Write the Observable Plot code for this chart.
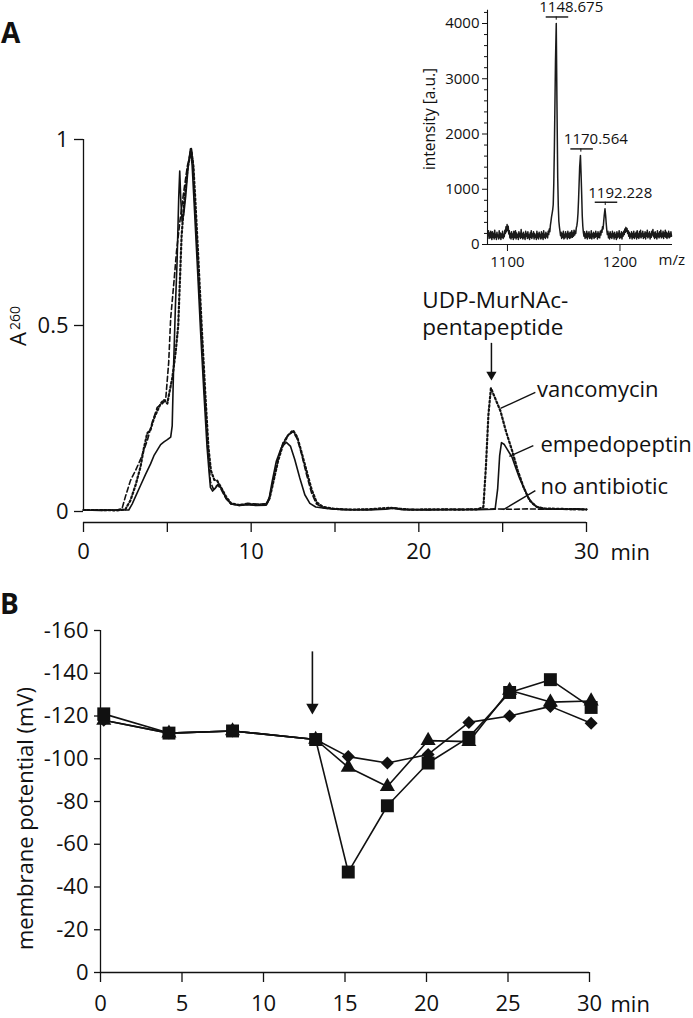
<!DOCTYPE html>
<html><head><meta charset="utf-8">
<script src="https://cdn.jsdelivr.net/npm/d3@7"></script>
<script src="https://cdn.jsdelivr.net/npm/@observablehq/plot@0.6"></script>
<style>
body{margin:0;background:#fff;}
#fig{position:relative;width:693px;height:1018px;font-family:"Open Sans",sans-serif;color:#111;overflow:hidden;background:#fff}
.panel{position:absolute;font-weight:bold;font-size:28px;line-height:1;font-family:"Open Sans",sans-serif;color:#111}
</style></head><body>
<div id="fig">
  <div class="panel" style="left:1px;top:18px">A</div>
  <div class="panel" style="left:0px;top:589px">B</div>
</div>
<script>
// ---------- Panel A: HPLC traces (time in min, A260) ----------
const empedopeptin = [[0,0.004],[1,0.003],[2,0.004],[2.7,0.004],[2.9,0.02],[3.1,0.04],[3.4,0.07],[3.7,0.1],[4.0,0.128],[4.2,0.15],[4.4,0.165],[4.6,0.18],[4.8,0.187],[5.0,0.193],[5.2,0.2],[5.29,0.23],[5.38,0.40],[5.48,0.55],[5.58,0.67],[5.68,0.845],[5.74,0.915],[5.8,0.84],[5.88,0.78],[5.98,0.8],[6.1,0.85],[6.25,0.93],[6.38,0.975],[6.48,0.93],[6.58,0.845],[6.78,0.67],[6.98,0.487],[7.18,0.32],[7.37,0.173],[7.5,0.1],[7.57,0.065],[7.7,0.055],[7.85,0.062],[8.05,0.074],[8.25,0.06],[8.5,0.035],[8.8,0.02],[9.3,0.016],[9.8,0.018],[10.3,0.016],[10.9,0.017],[11.05,0.03],[11.25,0.08],[11.5,0.135],[11.8,0.172],[12.1,0.186],[12.35,0.175],[12.6,0.14],[12.9,0.09],[13.2,0.045],[13.5,0.022],[13.85,0.012],[14.5,0.008],[15.5,0.005],[17,0.004],[18,0.006],[18.5,0.009],[19,0.005],[20.5,0.004],[22,0.005],[23.5,0.005],[24.55,0.006],[24.7,0.06],[24.82,0.15],[24.93,0.185],[25.1,0.18],[25.3,0.165],[25.56,0.146],[25.8,0.115],[26.0,0.09],[26.25,0.065],[26.5,0.04],[26.8,0.02],[27.05,0.012],[27.5,0.007],[28.5,0.006],[29.5,0.007],[30,0.005]];
const vancomycin = [[0,0.004],[1,0.004],[2,0.003],[2.5,0.006],[2.8,0.03],[3.1,0.07],[3.4,0.12],[3.6,0.17],[3.8,0.21],[4.0,0.22],[4.2,0.25],[4.4,0.27],[4.6,0.29],[4.8,0.3],[5.0,0.29],[5.08,0.31],[5.3,0.36],[5.5,0.43],[5.65,0.5],[5.75,0.62],[5.85,0.74],[6.0,0.83],[6.2,0.92],[6.42,0.975],[6.55,0.93],[6.66,0.845],[6.86,0.67],[7.06,0.487],[7.26,0.32],[7.45,0.173],[7.6,0.11],[7.8,0.085],[7.97,0.083],[8.2,0.065],[8.5,0.04],[8.8,0.022],[9.3,0.017],[9.8,0.02],[10.3,0.018],[10.9,0.02],[11.1,0.035],[11.35,0.085],[11.6,0.135],[11.9,0.18],[12.2,0.205],[12.5,0.218],[12.75,0.2],[13.0,0.16],[13.3,0.11],[13.6,0.06],[13.9,0.025],[14.3,0.012],[15,0.007],[16,0.005],[17,0.006],[18.3,0.01],[18.7,0.008],[19.5,0.005],[21,0.006],[22.5,0.005],[23.5,0.006],[23.85,0.012],[24.0,0.12],[24.15,0.26],[24.3,0.332],[24.5,0.31],[24.87,0.27],[25.2,0.215],[25.56,0.164],[25.9,0.11],[26.25,0.065],[26.6,0.03],[27.05,0.012],[27.5,0.008],[28.5,0.007],[29.5,0.006],[30,0.006]];
const noAntibiotic = [[0,0.004],[1,0.004],[2,0.004],[2.3,0.008],[2.5,0.04],[2.8,0.083],[3.1,0.11],[3.4,0.14],[3.8,0.19],[4.1,0.24],[4.4,0.28],[4.7,0.29],[4.9,0.3],[5.08,0.4],[5.2,0.52],[5.4,0.62],[5.55,0.7],[5.75,0.78],[5.95,0.85],[6.2,0.93],[6.45,0.97],[6.55,0.93],[6.62,0.845],[6.82,0.67],[7.02,0.487],[7.22,0.32],[7.41,0.173],[7.57,0.08],[7.75,0.06],[8.0,0.072],[8.2,0.06],[8.5,0.035],[8.8,0.02],[9.3,0.018],[9.8,0.022],[10.3,0.02],[10.9,0.02],[11.1,0.04],[11.35,0.09],[11.6,0.14],[11.9,0.185],[12.2,0.205],[12.5,0.215],[12.75,0.195],[13.0,0.155],[13.3,0.1],[13.6,0.05],[13.9,0.02],[14.3,0.01],[15,0.006],[16.5,0.005],[18,0.007],[18.5,0.01],[19,0.006],[20.5,0.005],[22,0.006],[23.5,0.006],[24.5,0.007],[25.5,0.006],[26.5,0.007],[27.5,0.006],[28.5,0.006],[30,0.005]];
const xTicksA = [0,5,10,15,20,25,30];
const xTickLabelsA = ["0","","10","","20","","30"];
const yTicksA = [0,0.5,1];
const yTickLabelsA = ["0","0.5","1"];
const traceLabels = ["vancomycin","empedopeptin","no antibiotic"];
const peakNameLines = ["UDP-MurNAc-","pentapeptide"];

// ---------- Inset: MS spectrum (m/z, intensity a.u.) ----------
const spectrum = [[1088,160],[1088.5,250],[1089,110],[1089.5,210],[1090,120],[1090.5,240],[1091,150],[1091.5,90],[1092,230],[1092.5,130],[1093,200],[1093.5,100],[1094,260],[1094.5,130],[1095,180],[1095.5,90],[1096,220],[1096.5,140],[1097,170],[1097.5,100],[1098,250],[1098.5,120],[1099,210],[1099.5,90],[1100,190],[1100.5,130],[1101,240],[1101.5,110],[1102,180],[1102.5,140],[1103,260],[1103.5,200],[1104,320],[1104.5,230],[1105,360],[1105.5,260],[1106,330],[1106.5,190],[1107,250],[1107.5,120],[1108,200],[1108.5,100],[1109,230],[1109.5,130],[1110,190],[1110.5,90],[1111,240],[1111.5,120],[1112,170],[1112.5,250],[1113,100],[1113.5,210],[1114,130],[1114.5,180],[1115,90],[1115.5,230],[1116,140],[1116.5,200],[1117,110],[1117.5,270],[1118,130],[1118.5,190],[1119,100],[1119.5,220],[1120,120],[1120.5,180],[1121,90],[1121.5,240],[1122,150],[1122.5,200],[1123,110],[1123.5,230],[1124,120],[1124.5,170],[1125,90],[1125.5,210],[1126,130],[1126.5,250],[1127,110],[1127.5,190],[1128,140],[1128.5,230],[1129,100],[1129.5,200],[1130,130],[1130.5,170],[1131,90],[1131.5,240],[1132,120],[1132.5,190],[1133,100],[1133.5,220],[1134,140],[1134.5,180],[1135,100],[1135.5,230],[1136,120],[1136.5,200],[1137,90],[1137.5,250],[1138,130],[1138.5,180],[1139,110],[1139.5,220],[1140,140],[1140.5,190],[1141,120],[1141.5,240],[1142,180],[1142.5,280],[1143,230],[1143.5,350],[1144,420],[1144.5,500],[1145,560],[1145.5,620],[1146,720],[1146.5,1100],[1147,1700],[1147.5,2500],[1148,3300],[1148.7,4000],[1149.3,2600],[1150,1200],[1150.5,700],[1151,420],[1151.5,320],[1152,240],[1152.5,160],[1153,220],[1153.5,110],[1154,200],[1154.5,130],[1155,240],[1155.5,100],[1156,180],[1156.5,120],[1157,230],[1157.5,140],[1158,190],[1158.5,100],[1159,240],[1159.5,130],[1160,200],[1160.5,110],[1161,220],[1161.5,120],[1162,180],[1162.5,250],[1163,130],[1163.5,210],[1164,150],[1164.5,260],[1165,170],[1165.5,240],[1166,200],[1166.5,300],[1167,340],[1167.5,420],[1168,560],[1168.5,800],[1169,1100],[1169.5,1400],[1170.2,1612],[1170.8,1250],[1171.3,900],[1171.8,520],[1172.3,330],[1172.8,220],[1173.3,150],[1173.8,230],[1174.3,110],[1174.8,190],[1175.3,130],[1175.8,240],[1176.3,100],[1176.8,200],[1177.3,140],[1177.8,230],[1178.3,110],[1178.8,180],[1179.3,120],[1179.8,250],[1180.3,100],[1180.8,190],[1181.3,140],[1181.8,220],[1182.3,110],[1182.8,200],[1183.3,130],[1183.8,240],[1184.3,150],[1184.8,190],[1185.3,100],[1185.8,230],[1186.3,130],[1186.8,200],[1187.3,120],[1187.8,240],[1188.3,170],[1188.8,260],[1189.3,220],[1189.8,320],[1190.3,280],[1190.8,400],[1191.3,520],[1192,647],[1192.6,520],[1193.1,380],[1193.6,260],[1194.1,180],[1194.6,240],[1195.1,120],[1195.6,200],[1196.1,100],[1196.6,230],[1197.1,130],[1197.6,190],[1198.1,110],[1198.6,240],[1199.1,140],[1199.6,200],[1200.1,100],[1200.6,220],[1201.1,130],[1201.6,180],[1202.1,90],[1202.6,230],[1203.1,120],[1203.6,200],[1204.1,140],[1204.6,250],[1205.1,110],[1205.6,190],[1206.1,130],[1206.6,230],[1207.1,100],[1207.6,210],[1208.1,150],[1208.6,240],[1209.1,180],[1209.6,280],[1210.1,220],[1210.6,310],[1211.1,240],[1211.6,290],[1212.1,200],[1212.6,250],[1213.1,150],[1213.6,220],[1214.1,110],[1214.6,190],[1215.1,140],[1215.6,230],[1216.1,100],[1216.6,200],[1217.1,130],[1217.6,240],[1218.1,110],[1218.6,190],[1219.1,140],[1219.6,220],[1220.1,100],[1220.6,250],[1221.1,130],[1221.6,190],[1222.1,110],[1222.6,230],[1223.1,140],[1223.6,260],[1224.1,120],[1224.6,200],[1225.1,150],[1225.6,240],[1226.1,110],[1226.6,190],[1227.1,130],[1227.6,230],[1228.1,100],[1228.6,210],[1229.1,150],[1229.6,260],[1230.1,120],[1230.6,200],[1231.1,140],[1231.6,230],[1232.1,100],[1232.6,190],[1233.1,130],[1233.6,240],[1234.1,170],[1234.6,270],[1235.1,140],[1235.6,210],[1236.1,110],[1236.6,230],[1237.1,130],[1237.6,190],[1238.1,100],[1238.6,250],[1239.1,140],[1239.6,200],[1240.1,120],[1240.6,230],[1241.1,150],[1241.6,260],[1242.1,120],[1242.6,200],[1243.1,140],[1243.6,240],[1244.1,110],[1244.6,210],[1245.1,150],[1245.6,260],[1246.1,130],[1246.6,220],[1247.1,110],[1247.6,200],[1248.1,140],[1248.6,240],[1249.1,120],[1249.6,200],[1250.1,140],[1250.6,230],[1251.1,150]];
const peakMz = [1148.675, 1170.564, 1192.228];
const peakIntensity = [4000, 1612, 647];
const peakLabels = ["1148.675","1170.564","1192.228"];
const yTicksMS = [0,1000,2000,3000,4000];
const yMinorTicksMS = [200,400,600,800,1200,1400,1600,1800,2200,2400,2600,2800,3200,3400,3600,3800,4200];
const xTicksMS = [1100,1200];

// ---------- Panel B: membrane potential (mV) over time (min) ----------
const timesB = [0.2, 4.2, 8.1, 13.2, 15.2, 17.6, 20.1, 22.6, 25.1, 27.6, 30.1];
const squares = [-121, -112, -113, -109, -47, -78, -98, -110, -131, -137, -124];
const diamonds = [-118, -112, -113, -109, -101, -98, -102, -117, -120, -124.5, -116.6];
const triangles = [-118, -112, -113, -109, -96, -87, -108.5, -108, -132, -126.5, -127];
const addTimeB = 13.0;
const yTicksB = [0,-20,-40,-60,-80,-100,-120,-140,-160];
const xTicksB = [0,5,10,15,20,25,30];

const INK = "#111";
const fig = document.getElementById("fig");
function place(svg, left, top) {
  svg.style.position = "absolute";
  svg.style.left = left + "px";
  svg.style.top = top + "px";
  fig.appendChild(svg);
}

// ===== Panel A main =====
const yMinA = -11/372;
const pairX = d => d[0], pairY = d => d[1];
const plotA = Plot.plot({
  width: 693, height: 580,
  marginLeft: 83, marginRight: 107, marginTop: 139, marginBottom: 58,
  x: {domain: [0, 30]},
  y: {domain: [yMinA, 1]},
  style: {fontFamily: "Open Sans", fontSize: "22px", color: INK, background: "transparent", overflow: "visible"},
  marks: [
    Plot.ruleX([0], {y1: 0, y2: 1, stroke: INK, strokeWidth: 1.3}),
    Plot.ruleY([yMinA], {x1: 0, x2: 30, stroke: INK, strokeWidth: 1.3}),
    Plot.axisY({ticks: yTicksA, tickSize: 9, tickPadding: 6, tickFormat: d => yTickLabelsA[yTicksA.indexOf(d)], label: null, strokeWidth: 1.3}),
    Plot.axisX({ticks: xTicksA, tickSize: 10, tickPadding: 11, tickFormat: d => xTickLabelsA[xTicksA.indexOf(d)], label: null, strokeWidth: 1.3}),
    Plot.text(["min"], {x: 30, y: yMinA, dx: 24, dy: 30, textAnchor: "start", fontSize: 22}),
    Plot.text(["A"], {frameAnchor: "left", textAnchor: "middle", rotate: -90, dx: -64.5, dy: 8, fontSize: 22}),
    Plot.text(["260"], {frameAnchor: "left", textAnchor: "middle", rotate: -90, dx: -68, dy: -13, fontSize: 14}),
    Plot.line(noAntibiotic, {x: pairX, y: pairY, stroke: INK, strokeWidth: 1.6, strokeDasharray: "5,3"}),
    Plot.line(vancomycin, {x: pairX, y: pairY, stroke: INK, strokeWidth: 2.2, strokeDasharray: "1.8,2.4"}),
    Plot.line(empedopeptin, {x: pairX, y: pairY, stroke: INK, strokeWidth: 1.6}),
    // peak annotation
    Plot.text(peakNameLines, {x: 20.21, y: (d, i) => [0.567, 0.495][i], textAnchor: "start", fontSize: 22.5}),
    Plot.ruleX([24.33], {y1: 0.452, y2: 0.37, stroke: INK, strokeWidth: 1.5}),
    Plot.dot([24.33], {x: d => d, y: 0.368, symbol: "triangle", rotate: 180, r: 3.8, fill: INK, stroke: null}),
    // trace labels with leader lines
    Plot.link(traceLabels, {x1: [26.95, 26.83, 26.95], y1: [0.32, 0.177, 0.056], x2: [24.87, 25.4, 25.04], y2: [0.277, 0.148, 0.005], stroke: INK, strokeWidth: 1.4}),
    Plot.text(traceLabels, {x: [27.05, 27.25, 27.25], y: [0.328, 0.180, 0.067], text: d => d, textAnchor: "start", fontSize: 22})
  ]
});
place(plotA, 0, 0);

// ===== Inset MS spectrum =====
const msX0 = 1087.6, msX1 = 1252;
const peaks = peakMz.map((mz, i) => ({mz, intensity: peakIntensity[i], label: peakLabels[i]}));
const inset = Plot.plot({
  width: 293, height: 280,
  marginLeft: 87, marginRight: 21, marginTop: 23, marginBottom: 36,
  x: {domain: [msX0, msX1]},
  y: {domain: [0, 4000]},
  style: {fontFamily: "Open Sans", fontSize: "15px", color: INK, background: "transparent", overflow: "visible"},
  marks: [
    Plot.ruleX([msX0], {y1: 0, y2: 4240, stroke: INK, strokeWidth: 1.1}),
    Plot.ruleY([0], {x1: msX0, x2: msX1, stroke: INK, strokeWidth: 1.1}),
    Plot.axisY({ticks: yMinorTicksMS, tickSize: 3, tickFormat: () => "", label: null}),
    Plot.axisY({ticks: yTicksMS, tickSize: 5, tickPadding: 3, tickFormat: d => String(d), label: null}),
    Plot.axisX({ticks: xTicksMS, tickSize: 7, tickPadding: 5, dx: 6, tickFormat: d => String(d), label: null}),
    Plot.text(["m/z"], {x: msX1, y: 0, dx: -14, dy: 16, textAnchor: "start", fontSize: 15}),
    Plot.text(["intensity [a.u.]"], {frameAnchor: "left", textAnchor: "middle", rotate: -90, dx: -57, dy: -15, fontSize: 15.5}),
    Plot.line(spectrum, {x: pairX, y: pairY, stroke: "#1a1a1a", strokeWidth: 1.5}),
    Plot.ruleY(peaks, {y: d => d.intensity + 118, x1: d => d.mz - 8.9, x2: d => d.mz + 11.1, stroke: INK, strokeWidth: 1.4}),
    Plot.ruleX(peaks, {x: "mz", y1: d => d.intensity + 60, y2: d => d.intensity + 118, stroke: INK, strokeWidth: 1}),
    Plot.text(peaks, {x: "mz", y: d => d.intensity + 118, text: "label", dx: -17, dy: -9.5, textAnchor: "start", fontSize: 15})
  ]
});
place(inset, 400, 0);

// ===== Panel B =====
const rowsOf = vals => timesB.map((t, i) => ({t, v: vals[i]}));
const sq = rowsOf(squares), di = rowsOf(diamonds), tr = rowsOf(triangles);
const plotB = Plot.plot({
  width: 693, height: 438,
  marginLeft: 100, marginRight: 104, marginTop: 50, marginBottom: 46,
  x: {domain: [0, 30]},
  y: {domain: [0, -160]},
  style: {fontFamily: "Open Sans", fontSize: "22px", color: INK, background: "transparent", overflow: "visible"},
  marks: [
    Plot.ruleX([0], {y1: 0, y2: -160, stroke: INK, strokeWidth: 1.3}),
    Plot.ruleY([0], {x1: 0, x2: 30, stroke: INK, strokeWidth: 1.3}),
    Plot.axisY({ticks: yTicksB, tickSize: 6, tickPadding: 6, tickFormat: d => String(d), label: null, strokeWidth: 1.3}),
    Plot.axisX({ticks: xTicksB, tickSize: 10, tickPadding: 13, tickFormat: d => String(d), label: null, strokeWidth: 1.3}),
    Plot.text(["min"], {x: 30, y: 0, dx: 21, dy: 32, textAnchor: "start", fontSize: 22}),
    Plot.text(["membrane potential (mV)"], {frameAnchor: "left", textAnchor: "middle", rotate: -90, dx: -75, dy: 17, fontSize: 22}),
    Plot.ruleX([addTimeB], {y1: -150, y2: -125, stroke: INK, strokeWidth: 1.6}),
    Plot.dot([addTimeB], {x: d => d, y: -124, symbol: "triangle", rotate: 180, r: 4.6, fill: INK, stroke: null}),
    Plot.line(di, {x: "t", y: "v", stroke: INK, strokeWidth: 1.6}),
    Plot.line(tr, {x: "t", y: "v", stroke: INK, strokeWidth: 1.6}),
    Plot.line(sq, {x: "t", y: "v", stroke: INK, strokeWidth: 1.6}),
    Plot.dot(di, {x: "t", y: "v", symbol: "square", rotate: 45, r: 5.2, fill: INK, stroke: null}),
    Plot.dot(tr, {x: "t", y: "v", symbol: "triangle", r: 5.6, fill: INK, stroke: null}),
    Plot.dot(sq, {x: "t", y: "v", symbol: "square", r: 7.3, fill: INK, stroke: null})
  ]
});
place(plotB, 0, 580);
</script>
</body></html>
